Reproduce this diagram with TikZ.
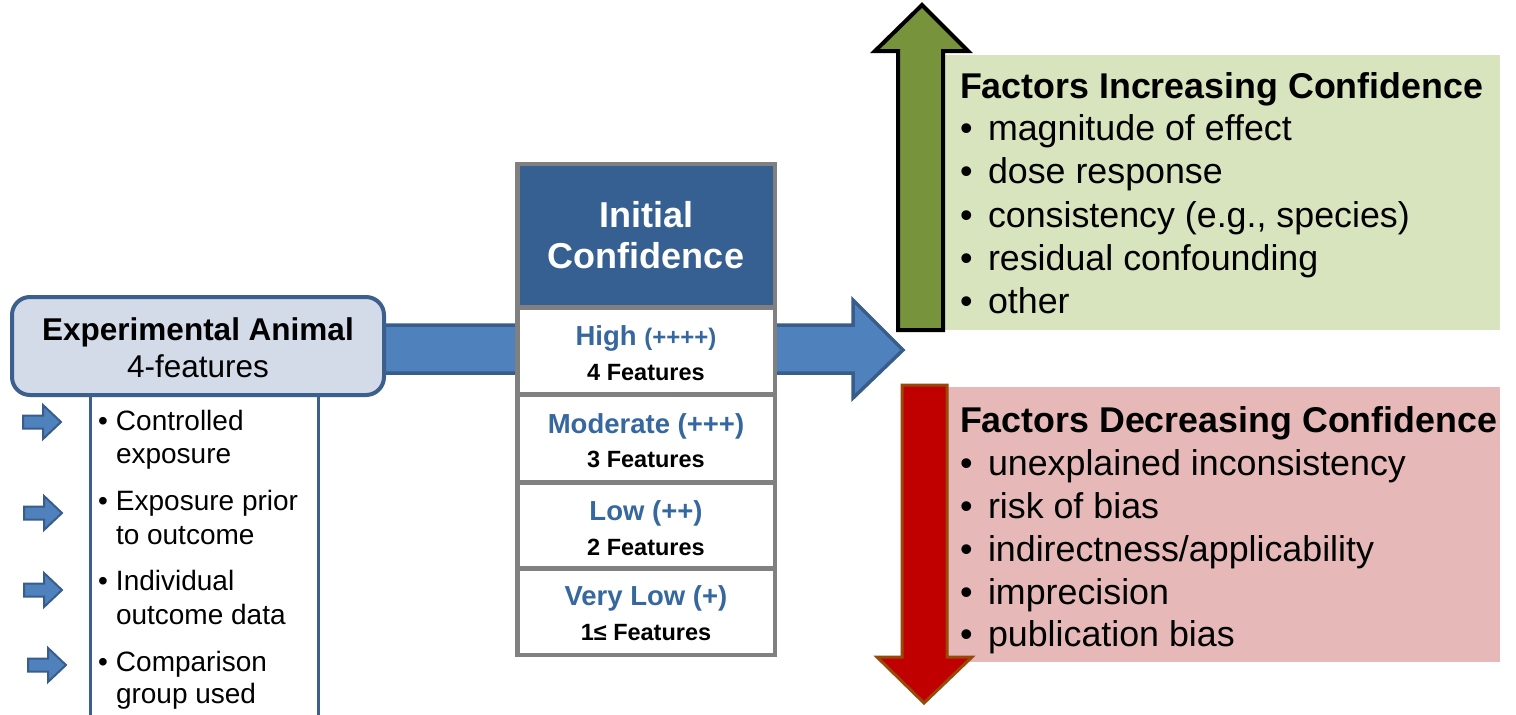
\documentclass[tikz,border=0pt]{standalone}
\usepackage{fontspec}
\setmainfont{Liberation Sans}
\definecolor{arrowblue}{HTML}{4F81BD}
\definecolor{arrowedge}{HTML}{385D8A}
\definecolor{boxblue}{HTML}{D3DAE8}
\definecolor{boxedge}{HTML}{3C5F8D}
\definecolor{headblue}{HTML}{366092}
\definecolor{txtblue}{HTML}{36679E}
\definecolor{colgray}{HTML}{808080}
\definecolor{arrgreen}{HTML}{77933C}
\definecolor{boxgreen}{HTML}{D7E4BD}
\definecolor{arrred}{HTML}{C00000}
\definecolor{rededge}{HTML}{984807}
\definecolor{boxred}{HTML}{E6B9B8}
\newcommand\fsz[1]{\fontsize{#1}{#1}\selectfont}
\begin{document}
\begin{tikzpicture}[x=1pt,y=-1pt,
  every node/.style={inner sep=0pt,outer sep=0pt},
  txt/.style={anchor=base},
  txtl/.style={anchor=base west},
  blockarrow/.style={fill=arrowblue,draw=arrowedge,line join=miter},
  cell/.style={fill=white,anchor=north west,minimum width=253pt},
]
\clip (0,0) rectangle (1516,715);
\fill[white] (0,0) rectangle (1516,715);

% big horizontal arrow
\draw[blockarrow,line width=3.5pt] (370,325) -- (853,325) -- (853,300) -- (903,350) -- (853,398) -- (853,373) -- (370,373) -- cycle;

% small arrows
\foreach \cx/\cy in {23/422, 24/513, 24/590, 28/665}{
  \draw[blockarrow,line width=2pt] (\cx,\cy-6.5) -- (\cx+20,\cy-6.5) -- (\cx+20,\cy-17) -- (\cx+38,\cy) -- (\cx+20,\cy+17) -- (\cx+20,\cy+6.5) -- (\cx,\cy+6.5) -- cycle;
}

% list box
\node[draw=boxedge,line width=3pt,fill=white,anchor=north west,minimum width=228pt,minimum height=340pt] (list) at (90,393) {};

% left rounded box
\node[draw=boxedge,fill=boxblue,line width=4pt,rounded corners=18pt,minimum width=372pt,minimum height=98pt] (ea) at (198,346) {};
\node[txt] (eat) at (198,340) {\fsz{31.5}\bfseries Experimental Animal};
\node[txt] (eas) at (198,377) {\fsz{31.5}4-features};

% left bullets
\begin{scope}[every node/.append style={txtl}]
\node (l1a) at (98,430) {\fsz{28}\makebox[18pt][l]{•}Controlled};
\node (l1b) at (116,463) {\fsz{28}exposure};
\node (l2a) at (98,510) {\fsz{28}\makebox[18pt][l]{•}Exposure prior};
\node (l2b) at (116,544) {\fsz{28}to outcome};
\node (l3a) at (98,590) {\fsz{28}\makebox[18pt][l]{•}Individual};
\node (l3b) at (116,624) {\fsz{28}outcome data};
\node (l4a) at (98,671) {\fsz{28}\makebox[18pt][l]{•}Comparison};
\node (l4b) at (116,703) {\fsz{28}group used};
\end{scope}

% central column
\node[fill=colgray,anchor=north west,minimum width=262pt,minimum height=495pt] (col) at (515,162) {};
\node[fill=headblue,anchor=north west,minimum width=253pt,minimum height=139pt] (head) at (520,166) {};
\node[cell,minimum height=82pt] (c1) at (520,310) {};
\node[cell,minimum height=83pt] (c2) at (520,397) {};
\node[cell,minimum height=81pt] (c3) at (520,485) {};
\node[cell,minimum height=82pt] (c4) at (520,571) {};
\node[txt,text=white] (h1) at (646,227) {\fsz{36}\bfseries Initial};
\node[txt,text=white] (h2) at (646,268) {\fsz{36}\bfseries Confidence};
\node[txt,text=txtblue] (c1a) at (646,345) {\bfseries\fsz{27.5}High \fsz{24}(++++)};
\node[txt] (c1b) at (646,380) {\fsz{23.5}\bfseries 4 Features};
\node[txt,text=txtblue] (c2a) at (646,433) {\fsz{27.5}\bfseries Moderate (+++)};
\node[txt] (c2b) at (646,467) {\fsz{23.5}\bfseries 3 Features};
\node[txt,text=txtblue] (c3a) at (646,520) {\fsz{27.5}\bfseries Low (++)};
\node[txt] (c3b) at (646,555) {\fsz{23.5}\bfseries 2 Features};
\node[txt,text=txtblue] (c4a) at (646,605) {\fsz{27.5}\bfseries Very Low (+)};
\node[txt] (c4b) at (646,640) {\fsz{23.5}\bfseries 1≤ Features};

% green box and arrow
\node[fill=boxgreen,anchor=north west,minimum width=555pt,minimum height=275pt] (gb) at (945,55) {};
\draw[fill=arrgreen,draw=black,line width=4pt,line join=miter] (898,330) -- (898,51) -- (875,51) -- (922,5) -- (968,51) -- (943,51) -- (943,330) -- cycle;

% red box and arrow
\node[fill=boxred,anchor=north west,minimum width=553pt,minimum height=275pt] (rb) at (947,387) {};
\draw[fill=arrred,draw=rededge,line width=3pt,line join=miter] (902,385) -- (947,385) -- (947,657) -- (972,657) -- (924,703) -- (877,657) -- (902,657) -- cycle;

% right texts
\begin{scope}[every node/.append style={txtl}]
\node (gt) at (960,98) {\fsz{35.8}\bfseries Factors Increasing Confidence};
\node (g1) at (960,140) {\fsz{35.8}\makebox[28pt][l]{•}magnitude of effect};
\node (g2) at (960,183) {\fsz{35.8}\makebox[28pt][l]{•}dose response};
\node (g3) at (960,227) {\fsz{35.8}\makebox[28pt][l]{•}consistency (e.g., species)};
\node (g4) at (960,270) {\fsz{35.8}\makebox[28pt][l]{•}residual confounding};
\node (g5) at (960,313) {\fsz{35.8}\makebox[28pt][l]{•}other};
\node (rt) at (960,432) {\fsz{35.8}\bfseries Factors Decreasing Confidence};
\node (r1) at (960,475) {\fsz{35.8}\makebox[28pt][l]{•}unexplained inconsistency};
\node (r2) at (960,518) {\fsz{35.8}\makebox[28pt][l]{•}risk of bias};
\node (r3) at (960,561) {\fsz{35.8}\makebox[28pt][l]{•}indirectness/applicability};
\node (r4) at (960,604) {\fsz{35.8}\makebox[28pt][l]{•}imprecision};
\node (r5) at (960,646) {\fsz{35.8}\makebox[28pt][l]{•}publication bias};
\end{scope}
\end{tikzpicture}
\end{document}
